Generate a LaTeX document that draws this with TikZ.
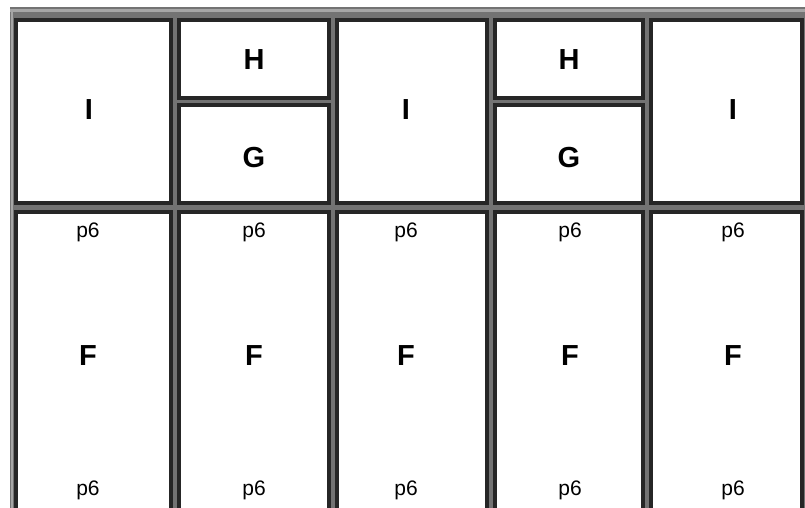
\documentclass[tikz,border=0pt]{standalone}
\usepackage{fontspec}
\setmainfont{Liberation Sans}
\begin{document}
\begin{tikzpicture}[x=1pt,y=1pt,
  cellb/.style={draw=black!85,line width=4pt,fill=white},
  big/.style={font=\fontsize{29}{32}\selectfont\bfseries,inner sep=0pt},
  small/.style={font=\fontsize{21}{23}\selectfont,inner sep=0pt}]
\useasboundingbox (0,0) rectangle (805,-507);
\clip (0,0) rectangle (805,-507);
\fill[white] (0,0) rectangle (805,-507);
% table background / outer 3D border
\fill[black!55] (10,-7) rectangle (810,-520);
\fill[black!35] (10,-9) rectangle (810,-12);
\fill[black!35] (11,-9) rectangle (13,-520);
% top row cells
\draw[cellb] (16,-20) rectangle (171,-203);
\draw[cellb] (179,-20) rectangle (329,-98);
\draw[cellb] (179,-105) rectangle (329,-203);
\draw[cellb] (337,-20) rectangle (487,-203);
\draw[cellb] (495,-20) rectangle (643,-98);
\draw[cellb] (495,-105) rectangle (643,-203);
\draw[cellb] (651,-20) rectangle (802,-203);
% bottom row cells
\draw[cellb] (16,-212) rectangle (171,-530);
\draw[cellb] (179,-212) rectangle (329,-530);
\draw[cellb] (337,-212) rectangle (487,-530);
\draw[cellb] (495,-212) rectangle (643,-530);
\draw[cellb] (651,-212) rectangle (802,-530);
% texts
\node[big] (i1) at (89,-110) {I};
\node[big] (h1) at (254,-60) {H};
\node[big] (g1) at (254,-158) {G};
\node[big] (i2) at (406,-110) {I};
\node[big] (h2) at (569,-60) {H};
\node[big] (g2) at (569,-158) {G};
\node[big] (i3) at (733,-110) {I};
\foreach \x/\n in {88/a,254/b,406/c,570/d,733/e}{
  \node[small] (pt\n) at (\x,-232) {p6};
  \node[big] (f\n) at (\x,-356) {F};
  \node[small] (pb\n) at (\x,-490) {p6};
}
\end{tikzpicture}
\end{document}
